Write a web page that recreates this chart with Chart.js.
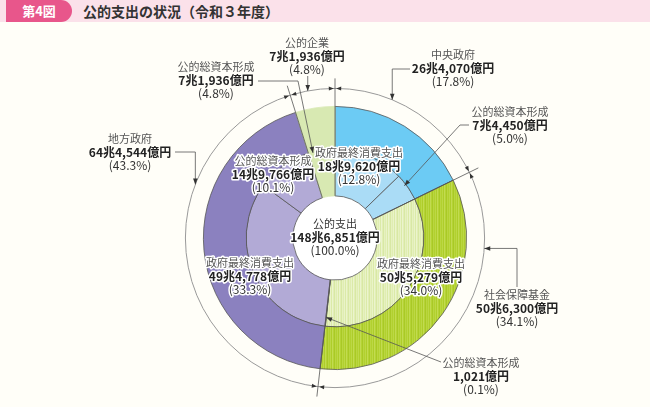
<!DOCTYPE html>
<html lang="ja">
<head>
<meta charset="utf-8">
<script src="https://cdn.jsdelivr.net/npm/chart.js@4"></script>
<style>
  html, body { margin: 0; padding: 0; background: #fffef8; }
  #wrap { position: relative; width: 650px; height: 407px; font-family: 'Noto Sans CJK JP', sans-serif; }
  #chart-box { position: absolute; left: 0; top: 0; width: 650px; height: 407px; }
  #bar { position: absolute; left: 0; top: 0; width: 650px; height: 22px; background: #fbe1ea; }
  #fig { position: absolute; left: 6px; top: 0; width: 66px; height: 22px; line-height: 22px; background: #e8568b;
         border-radius: 0 11px 11px 0; color: #fff; font-weight: bold; font-size: 13px; text-align: center; }
  #ttl { position: absolute; left: 83px; top: 0; height: 22px; line-height: 22px; color: #333; font-weight: bold; font-size: 14px; }
</style>
</head>
<body>
<div id="wrap">
  <div id="chart-box"><canvas id="chart"></canvas></div>
  <div id="bar"><span id="fig">第4図</span><span id="ttl">公的支出の状況（令和３年度）</span></div>
</div>
<script>
// 億円
const sectorNames = ['中央政府', '社会保障基金', '地方政府', '公的企業'];
const sectorValues = [264070, 506300, 644544, 71936];
const sectorShares = [17.8, 34.1, 43.3, 4.8];

const itemNames = ['政府最終消費支出', '公的総資本形成', '政府最終消費支出', '公的総資本形成',
  '政府最終消費支出', '公的総資本形成', '公的総資本形成'];
const itemValues = [189620, 74450, 505279, 1021, 494778, 149766, 71936];
const itemShares = [12.8, 5.0, 34.0, 0.1, 33.3, 10.1, 4.8];

const totalName = '公的支出';
const totalValue = 1486851;
const totalShare = 100.0;

function yen(v) {
  const cho = Math.floor(v / 10000);
  const oku = v % 10000;
  return (cho ? cho + '兆' : '') + oku.toLocaleString('en-US') + '億円';
}

function stripes(cols) {
  const c = document.createElement('canvas');
  c.width = cols.length;
  c.height = 4;
  const g = c.getContext('2d');
  cols.forEach((col, i) => { g.fillStyle = col; g.fillRect(i, 0, 1, 4); });
  return g.createPattern(c, 'repeat');
}

const BLUE = '#6ccbf4';
const BLUE_L = '#aadcf6';
const PURPLE = '#8b81bf';
const PURPLE_L = '#b2aad6';
const PALE = '#d8e9b2';
const GREEN = stripes(['#b2d12f', '#bcd845', '#aecd2a', '#c2db50', '#b5d335', '#a9c926', '#bad640']);
const GREEN_L = stripes(['#e0edb2', '#e9f3c8', '#dbeaa8', '#ebf4cd', '#e2eeb6', '#d8e8a4', '#e6f1c0']);
const EDGE = '#555';

// label placement (text centre, first line)
const labelLayout = [
  { ds: 0, i: 3, x: 307, y: 43 },
  { ds: 1, i: 6, x: 216, y: 67 },
  { ds: 0, i: 0, x: 453, y: 55 },
  { ds: 1, i: 1, x: 510, y: 112 },
  { ds: 0, i: 2, x: 130, y: 139 },
  { ds: 0, i: 1, x: 517, y: 295 },
  { ds: 1, i: 3, x: 481, y: 363 },
  { ds: 1, i: 0, x: 359, y: 153, halo: true },
  { ds: 1, i: 5, x: 273, y: 161, halo: true },
  { ds: 1, i: 4, x: 250, y: 263, halo: true },
  { ds: 1, i: 2, x: 421, y: 264, halo: true },
];

const annotPlugin = {
  id: 'annot',
  beforeDatasetsDraw(chart) {
    const ctx = chart.ctx;
    const el = chart.getDatasetMeta(1).data[0];
    ctx.save();
    ctx.fillStyle = '#fff';
    ctx.beginPath();
    ctx.arc(el.x, el.y, el.innerRadius, 0, Math.PI * 2);
    ctx.fill();
    ctx.restore();
  },
  afterDatasetsDraw(chart) {
    const ctx = chart.ctx;
    const outer = chart.getDatasetMeta(0).data;
    const inner = chart.getDatasetMeta(1).data;
    const cx = outer[0].x;
    const cy = outer[0].y;
    const R = outer[0].outerRadius;
    const rMid = inner[0].outerRadius;
    const rIn = inner[0].innerRadius;
    const rRing = R + 18;

    const pt = (deg, r) => {
      const a = (deg - 90) * Math.PI / 180;
      return { x: cx + r * Math.cos(a), y: cy + r * Math.sin(a) };
    };
    const toDeg = (a) => ((a * 180 / Math.PI) + 90 + 360) % 360;
    const midDeg = (el) => toDeg((el.startAngle + el.endAngle) / 2);

    const arrowHead = (tip, from, len = 5, half = 2) => {
      const dx = tip.x - from.x;
      const dy = tip.y - from.y;
      const d = Math.hypot(dx, dy) || 1;
      const ux = dx / d;
      const uy = dy / d;
      ctx.beginPath();
      ctx.moveTo(tip.x, tip.y);
      ctx.lineTo(tip.x - ux * len - uy * half, tip.y - uy * len + ux * half);
      ctx.lineTo(tip.x - ux * len + uy * half, tip.y - uy * len - ux * half);
      ctx.closePath();
      ctx.fill();
    };

    ctx.save();
    ctx.strokeStyle = '#999';
    ctx.lineWidth = 1;
    ctx.beginPath();
    ctx.arc(cx, cy, rRing, 0, Math.PI * 2);
    ctx.stroke();

    // sector boundaries, extended past the ring
    ctx.strokeStyle = EDGE;
    ctx.fillStyle = '#333';
    ctx.lineWidth = 0.8;
    outer.forEach((el) => {
      const deg = toDeg(el.startAngle);
      const a = pt(deg, rIn);
      const b = pt(deg, R + 28);
      ctx.beginPath();
      ctx.moveTo(a.x, a.y);
      ctx.lineTo(b.x, b.y);
      ctx.stroke();
      [-1, 1].forEach((s) => {
        const tip = pt(deg + s * (1.2 / rRing) * 180 / Math.PI, rRing);
        const from = pt(deg + s * (8 / rRing) * 180 / Math.PI, rRing);
        arrowHead(tip, from);
      });
    });

    // leader lines
    const leaders = [];
    const p1 = pt(345.5, rMid - 1);
    leaders.push([{ x: 258, y: 81 }, { x: 298, y: 81 }, p1]);
    const p2 = pt(349.5, rRing);
    leaders.push([{ x: p2.x, y: 76 }, p2]);
    const p3 = pt(22.5, rRing);
    leaders.push([{ x: 410, y: 69 }, { x: p3.x, y: 69 }, p3]);
    const p4 = pt(53, rMid - 2);
    leaders.push([{ x: 469, y: 125 }, { x: 460, y: 125 }, p4]);
    const p5 = pt(291, rRing);
    leaders.push([{ x: 175, y: 152 }, { x: p5.x, y: 152 }, p5]);
    const p6 = pt(94, rRing);
    leaders.push([{ x: 517, y: 287 }, { x: 517, y: p6.y }, p6]);
    const p7 = pt(midDeg(inner[3]), rMid - 9);
    leaders.push([{ x: 441, y: 362 }, p7]);

    leaders.forEach((pts) => {
      ctx.beginPath();
      ctx.moveTo(pts[0].x, pts[0].y);
      pts.slice(1).forEach((p) => ctx.lineTo(p.x, p.y));
      ctx.stroke();
      arrowHead(pts[pts.length - 1], pts[pts.length - 2], 6, 2.3);
    });

    // labels
    const FONT = '"Noto Sans CJK JP", sans-serif';
    const drawLabel = (x, y, lines, halo) => {
      ctx.textAlign = 'center';
      ctx.textBaseline = 'middle';
      lines.forEach((ln, k) => {
        ctx.font = ln.font;
        const ty = y + k * 13;
        if (halo) {
          ctx.strokeStyle = '#fff';
          ctx.lineWidth = 3;
          ctx.lineJoin = 'round';
          ctx.strokeText(ln.text, x, ty);
        }
        ctx.fillStyle = ln.color;
        ctx.fillText(ln.text, x, ty);
      });
    };
    const linesFor = (name, value, share) => [
      { text: name, font: '11px ' + FONT, color: '#555' },
      { text: yen(value), font: 'bold 12px ' + FONT, color: '#222' },
      { text: '(' + share.toFixed(1) + '%)', font: '12px ' + FONT, color: '#333' },
    ];

    labelLayout.forEach((lb) => {
      const names = lb.ds === 0 ? sectorNames : itemNames;
      const vals = lb.ds === 0 ? sectorValues : itemValues;
      const shares = lb.ds === 0 ? sectorShares : itemShares;
      drawLabel(lb.x, lb.y, linesFor(names[lb.i], vals[lb.i], shares[lb.i]), lb.halo);
    });
    const tl = linesFor(totalName, totalValue, totalShare);
    tl[0].color = '#333';
    drawLabel(cx, cy - 14, tl, true);
    ctx.restore();
  },
};

new Chart(document.getElementById('chart'), {
  type: 'doughnut',
  data: {
    labels: sectorNames,
    datasets: [
      {
        data: sectorValues,
        backgroundColor: [BLUE, GREEN, PURPLE, PALE],
        borderColor: [EDGE, EDGE, EDGE, PALE],
        borderWidth: 0.8,
        weight: 43,
      },
      {
        data: itemValues,
        backgroundColor: [BLUE_L, BLUE_L, GREEN_L, '#c9df6e', PURPLE_L, PURPLE_L, PALE],
        borderColor: [EDGE, EDGE, EDGE, EDGE, EDGE, EDGE, PALE],
        borderWidth: 0.8,
        weight: 47,
      },
    ],
  },
  options: {
    responsive: true,
    maintainAspectRatio: false,
    animation: false,
    cutout: '32%',
    layout: { padding: { left: 203, right: 183, top: 106, bottom: 37 } },
    plugins: {
      legend: { display: false },
      tooltip: { enabled: false },
    },
  },
  plugins: [annotPlugin],
});
</script>
</body>
</html>
